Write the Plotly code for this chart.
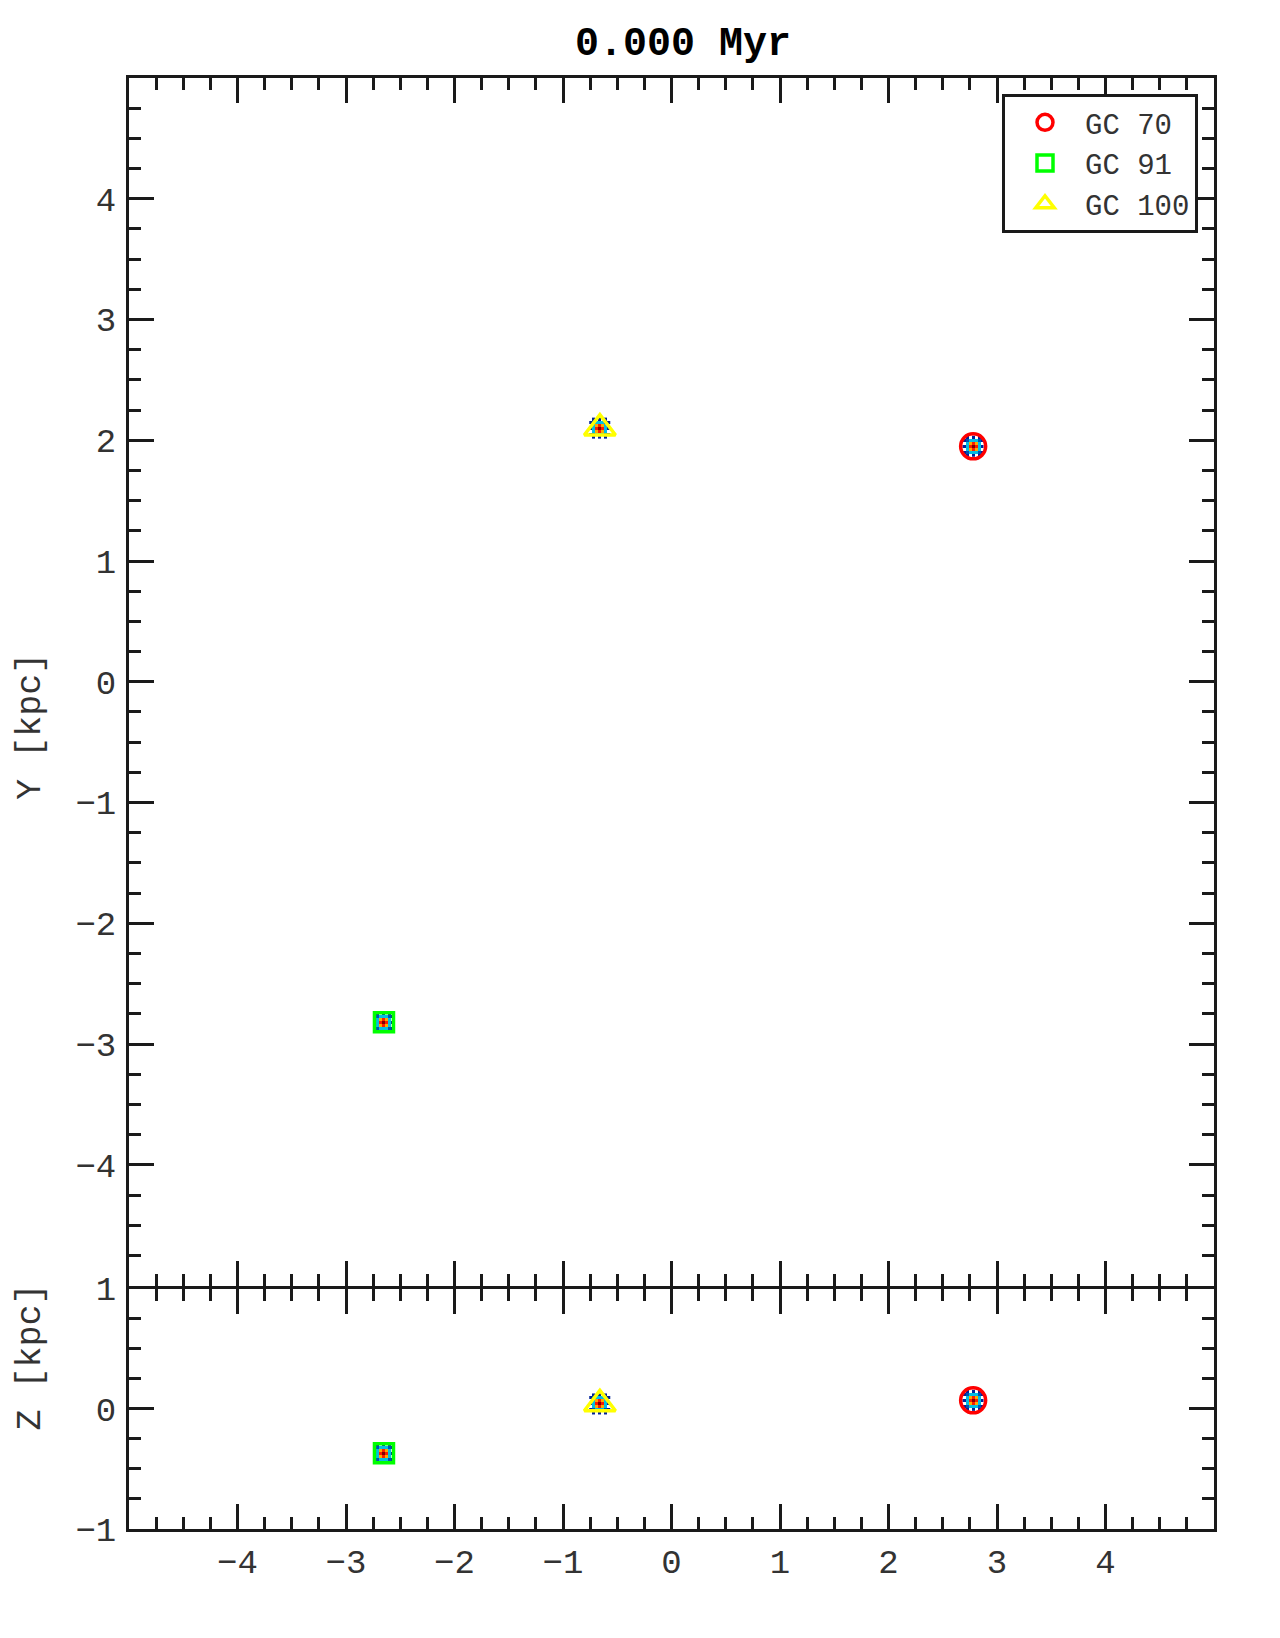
import numpy as np
import plotly.graph_objects as go
from plotly.subplots import make_subplots

# ---- data ----
cluster_names = ["GC 70", "GC 91", "GC 100"]
cluster_x = [2.78, -2.65, -0.66]
cluster_y = [1.95, -2.82, 2.10]
cluster_z = [0.07, -0.37, 0.04]
cluster_symbols = ["circle-open", "square-open", "triangle-up-open"]
cluster_colors = ["#ff0000", "#00ff00", "#ffff00"]
cluster_sizes = [25, 19, 27]

# projected particle density of each cluster core (relative counts)
core_density = [
    [0, 1, 0, 1, 0, 1, 0],
    [1, 2, 3, 3, 3, 2, 1],
    [0, 3, 6, 7, 6, 3, 0],
    [1, 3, 7, 9, 7, 3, 1],
    [0, 3, 6, 7, 6, 3, 0],
    [1, 2, 3, 3, 3, 2, 1],
    [0, 1, 0, 1, 0, 1, 0],
]

x_ticks = [-4, -3, -2, -1, 0, 1, 2, 3, 4]
y_ticks = [-4, -3, -2, -1, 0, 1, 2, 3, 4]
z_ticks = [-1, 0, 1]

FONT = "Courier New, Liberation Mono, monospace"
INK = "#1a1a1a"
TXT = "#333333"

OFF = 8  # page body margin
W, H = 1264, 1622
LW = 3
# plot area (page coords of axis line centres): x 127.5..1215.5, y 76.5..1531
L = 127.5 - OFF + LW / 2
R = W - (1215.5 - OFF) + LW / 2
T = 76.5 - OFF + LW / 2
B = H - (1531 - OFF) + LW / 2
plot_w = W - L - R
plot_h = H - T - B
div_page = 1287.5 - OFF  # divider line centre (fig coords)
div_frac = (H - B - div_page) / plot_h
gap = (LW / 2) / plot_h

fig = make_subplots(rows=2, cols=1, shared_xaxes=False, vertical_spacing=0)

dens = np.array(core_density, dtype=float)
dens[dens == 0] = np.nan
n = dens.shape[0]
cx, cy = 0.028, 0.025
offs = (np.arange(n) - (n - 1) / 2)

for i in range(len(cluster_names)):
    for row, yc in ((1, cluster_y[i]), (2, cluster_z[i])):
        fig.add_trace(go.Heatmap(
            z=dens, x=cluster_x[i] + offs * cx, y=yc + offs * cy,
            colorscale="Jet", zmin=0, zmax=9, showscale=False,
            hoverinfo="skip", zsmooth=False), row=row, col=1)

for i, name in enumerate(cluster_names):
    for row, yv, show in ((1, cluster_y[i], True), (2, cluster_z[i], False)):
        fig.add_trace(go.Scatter(
            x=[cluster_x[i]], y=[yv], mode="markers", name=name,
            showlegend=show, legendgroup=name,
            marker=dict(symbol=cluster_symbols[i], size=cluster_sizes[i],
                        color=cluster_colors[i],
                        line=dict(width=3.5, color=cluster_colors[i]))),
            row=row, col=1)

common = dict(showline=True, linecolor=INK, linewidth=LW, mirror="ticks",
              ticks="inside", ticklen=25, tickwidth=3, tickcolor=INK,
              showgrid=False, zeroline=False,
              tickfont=dict(family=FONT, size=34, color=TXT),
              minor=dict(ticks="inside", ticklen=12, tickwidth=3, tickcolor=INK,
                         tickmode="linear", tick0=0, dtick=0.25, showgrid=False))

fig.update_xaxes(range=[-5, 5], tickmode="array", tickvals=x_ticks, **common)
fig.update_xaxes(showticklabels=False, row=1, col=1)
fig.update_xaxes(showticklabels=True, ticklabelstandoff=0, row=2, col=1)
fig.update_yaxes(range=[-5, 5], tickmode="array", tickvals=y_ticks,
                 ticklabelstandoff=3, row=1, col=1, **common)
fig.update_yaxes(range=[-1, 1], tickmode="array", tickvals=z_ticks,
                 ticklabelstandoff=3, row=2, col=1, **common)
fig.update_layout(yaxis=dict(domain=[div_frac + gap, 1]),
                  yaxis2=dict(domain=[0, div_frac - gap]))


def px(xp):
    return (xp - OFF - L) / plot_w


def py(yp):
    return (H - B - (yp - OFF)) / plot_h


fig.update_layout(
    width=W, height=H,
    margin=dict(l=L, r=R, t=T, b=B, autoexpand=False),
    paper_bgcolor="white", plot_bgcolor="white",
    font=dict(family=FONT, color=TXT),
    showlegend=True,
    legend=dict(x=px(1198), xanchor="right", y=py(94), yanchor="top",
                bgcolor="white", bordercolor=INK, borderwidth=3,
                font=dict(family=FONT, size=29, color=TXT),
                itemsizing="trace", itemwidth=70, tracegroupgap=0),
    annotations=[
        dict(text="<b>0.000 Myr</b>", xref="paper", yref="paper",
             x=px(683), y=py(44),
             xanchor="center", yanchor="middle", showarrow=False,
             font=dict(family=FONT, size=40, color="black")),
        dict(text="Y [kpc]", xref="paper", yref="paper",
             x=px(31), y=py(727),
             textangle=-90, xanchor="center", yanchor="middle", showarrow=False,
             font=dict(family=FONT, size=35, color=TXT)),
        dict(text="Z [kpc]", xref="paper", yref="paper",
             x=px(31), y=py(1358),
             textangle=-90, xanchor="center", yanchor="middle", showarrow=False,
             font=dict(family=FONT, size=35, color=TXT)),
    ],
)

fig.write_html("out.html")
